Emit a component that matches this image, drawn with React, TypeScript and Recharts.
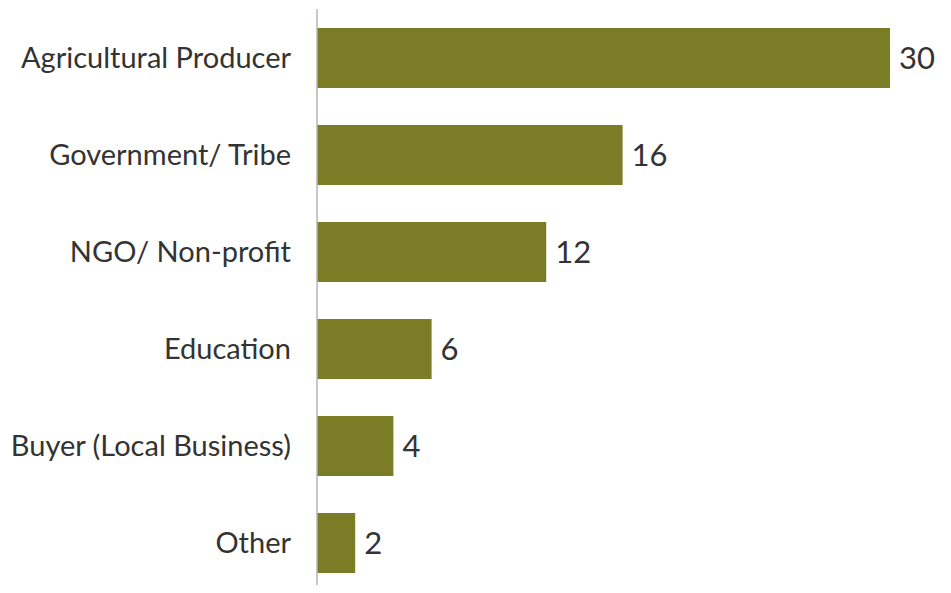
import { Bar, BarChart, LabelList, XAxis, YAxis } from "recharts";

const categories = [
    "Agricultural Producer",
    "Government/ Tribe",
    "NGO/ Non-profit",
    "Education",
    "Buyer (Local Business)",
    "Other",
];
const counts = [30, 16, 12, 6, 4, 2];

const data = categories.map((name, i) => ({ name, count: counts[i] }));

export default function App() {
    return (
        <div style={{ margin: -8, width: 951, height: 593, background: "#fff", fontFamily: "Lato, sans-serif" }}>
            <BarChart
                width={951}
                height={593}
                data={data}
                layout="vertical"
                margin={{ top: 9, right: 61, bottom: 2, left: 0 }}
                barSize={60}
            >
                <XAxis type="number" domain={[0, 30]} hide />
                <YAxis
                    type="category"
                    dataKey="name"
                    width={317}
                    axisLine={{ stroke: "#b5b5b5", strokeWidth: 1.5 }}
                    tickLine={false}
                    tickMargin={20}
                    tick={{ fill: "#333", fontSize: 29, fontFamily: "Lato" }}
                />
                <Bar dataKey="count" fill="#7b7d26" isAnimationActive={false}>
                    <LabelList
                        dataKey="count"
                        position="right"
                        offset={9}
                        style={{ fill: "#333", fontSize: 31, fontFamily: "Lato" }}
                    />
                </Bar>
            </BarChart>
        </div>
    );
}
